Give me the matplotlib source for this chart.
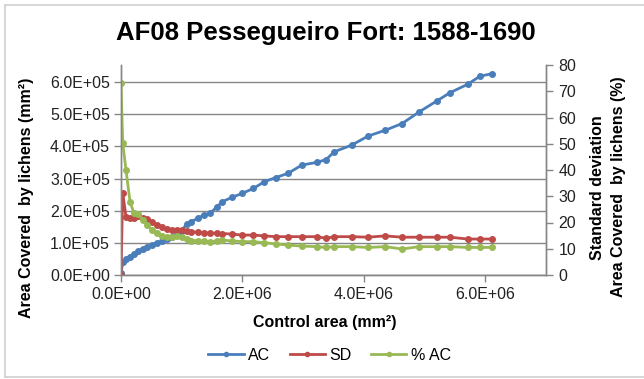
import numpy as np
import matplotlib
matplotlib.use("Agg")
import matplotlib.pyplot as plt
from matplotlib.lines import Line2D
from matplotlib.ticker import FuncFormatter, MultipleLocator

plt.rcParams['font.family'] = ['Liberation Sans', 'DejaVu Sans']

# control area (mm2) shared by all three series
control_area = [0.0, 0.028e6, 0.082e6, 0.148e6, 0.214e6, 0.285e6, 0.357e6, 0.434e6,
                0.51e6, 0.588e6, 0.675e6, 0.75e6, 0.835e6, 0.917e6, 1.0e6, 1.08e6,
                1.16e6, 1.26e6, 1.36e6, 1.47e6, 1.58e6, 1.67e6, 1.82e6, 2.0e6,
                2.18e6, 2.36e6, 2.55e6, 2.75e6, 2.98e6, 3.22e6, 3.38e6, 3.51e6,
                3.80e6, 4.07e6, 4.35e6, 4.63e6, 4.91e6, 5.20e6, 5.42e6, 5.71e6,
                5.91e6, 6.11e6]

# area covered by lichens (mm2)
ac = [0.05e5, 0.39e5, 0.49e5, 0.57e5, 0.65e5, 0.75e5, 0.81e5, 0.88e5,
      0.93e5, 0.99e5, 1.05e5, 1.11e5, 1.19e5, 1.26e5, 1.38e5, 1.58e5,
      1.66e5, 1.76e5, 1.86e5, 1.92e5, 2.12e5, 2.28e5, 2.41e5, 2.54e5,
      2.69e5, 2.90e5, 3.03e5, 3.16e5, 3.42e5, 3.50e5, 3.59e5, 3.83e5,
      4.04e5, 4.32e5, 4.50e5, 4.71e5, 5.07e5, 5.41e5, 5.67e5, 5.93e5,
      6.18e5, 6.26e5]

# standard deviation (%)
sd = [0.0, 31.4, 22.2, 21.6, 21.8, 22.5, 21.6, 21.2,
      20.3, 19.0, 18.4, 17.4, 17.1, 17.1, 17.1, 16.8,
      16.5, 16.3, 15.9, 16.0, 15.9, 15.8, 15.6, 15.2,
      15.2, 14.9, 14.6, 14.6, 14.6, 14.6, 14.0, 14.6,
      14.6, 14.4, 14.9, 14.4, 14.4, 14.4, 14.4, 13.7,
      13.7, 13.7]

# area covered by lichens (%)
pct_ac = [73.0, 50.4, 40.0, 28.0, 23.5, 23.2, 21.0, 19.0,
          17.1, 15.9, 15.0, 14.6, 14.6, 14.9, 14.6, 13.6,
          13.1, 13.1, 12.9, 12.7, 13.0, 13.3, 13.0, 12.7,
          12.7, 12.3, 11.8, 11.4, 11.0, 10.8, 10.5, 10.8,
          10.8, 10.5, 10.8, 9.9, 10.8, 10.8, 10.8, 10.5,
          10.5, 10.5]

blue = '#4A7EBB'
red = '#BE4B48'
green = '#98B954'
axis_grey = '#868686'

fig = plt.figure(figsize=(6.44, 3.79), dpi=100)
ax = fig.add_axes([121/644, 1 - 275/379, 425/644, 210/379])
ax2 = ax.twinx()

ax.plot(control_area, ac, color=blue, lw=2.0, marker='o', ms=4, label='AC')
ax2.plot(control_area, sd, color=red, lw=2.0, marker='o', ms=4, label='SD')
ax2.plot(control_area, pct_ac, color=green, lw=2.0, marker='o', ms=4, label='% AC')

ax.set_xlim(0, 7e6)
ax.set_ylim(0, 6.53e5)
ax2.set_ylim(0, 80)
ax.set_xticks([0, 2e6, 4e6, 6e6])
ax.set_yticks(np.arange(0, 6.01e5, 1e5))
ax2.yaxis.set_major_locator(MultipleLocator(10))

sci = FuncFormatter(lambda v, p: f"{v:.1E}")
ax.xaxis.set_major_formatter(sci)
ax.yaxis.set_major_formatter(sci)

ax.grid(axis='y', color=axis_grey, lw=1.0)
ax.set_axisbelow(True)

for a in (ax, ax2):
    a.spines['top'].set_visible(False)
    for s in ('left', 'right', 'bottom'):
        a.spines[s].set_color(axis_grey)
        a.spines[s].set_linewidth(1.0)
    a.tick_params(colors=axis_grey, labelcolor='#222222', labelsize=11.5,
                  length=5, width=1.0, direction='out')
ax.tick_params(axis='y', pad=3)
ax2.tick_params(axis='y', pad=4)

fig.text(0.506, 1 - 33/379, 'AF08 Pessegueiro Fort: 1588-1690', ha='center', va='center',
         fontsize=18.5, fontweight='bold', color='black')
fig.text(0.505, 1 - 322/379, 'Control area (mm²)', ha='center', va='center',
         fontsize=11.5, fontweight='bold', color='black')
fig.text(27/644, 1 - 198/379, 'Area Covered  by lichens (mm²)', ha='center', va='center',
         rotation=90, fontsize=11.5, fontweight='bold', color='black')
fig.text(597/644, 1 - 188/379, 'Standard deviation', ha='center', va='center',
         rotation=90, fontsize=11.5, fontweight='bold', color='black')
fig.text(618/644, 1 - 187/379, 'Area Covered  by lichens (%)', ha='center', va='center',
         rotation=90, fontsize=11.5, fontweight='bold', color='black')

handles = [Line2D([], [], color=c, lw=2.0, marker='o', ms=3, markevery=[1])
           for c in (blue, red, green)]
for h in handles:
    h.set_xdata([0, 0.5, 1])
fig.legend(handles, ['AC', 'SD', '% AC'], loc='center', bbox_to_anchor=(0.512, 1 - 355/379),
           ncol=3, frameon=False, fontsize=11.5, handlelength=2.2, handletextpad=0.3,
           columnspacing=1.2)

# chart area border
border = dict(color='#d0d0d0', lw=1.2, transform=fig.transFigure)
fig.add_artist(Line2D([5/644, 1], [1 - 5/379, 1 - 5/379], **border))
fig.add_artist(Line2D([5/644, 5/644], [1 - 5/379, 1 - 377/379], **border))
fig.add_artist(Line2D([5/644, 1], [1 - 377/379, 1 - 377/379], **border))

fig.savefig('out.png', dpi=100)
